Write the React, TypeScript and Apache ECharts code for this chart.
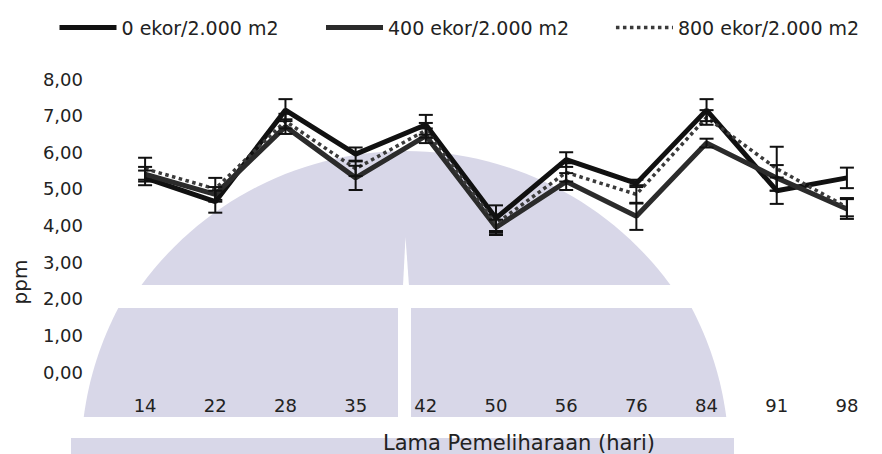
import React, { useEffect, useRef } from "react";
import * as echarts from "echarts";

// Sampling days (hari)
const categories = ["14", "22", "28", "35", "42", "50", "56", "76", "84", "91", "98"];

// Mean concentration (ppm) per stocking density
const ekor0 = [5.3, 4.65, 7.15, 5.95, 6.75, 4.2, 5.8, 5.15, 7.15, 4.95, 5.3];
const ekor400 = [5.4, 4.85, 6.7, 5.3, 6.45, 3.95, 5.2, 4.25, 6.25, 5.3, 4.45];
const ekor800 = [5.55, 5.0, 6.85, 5.55, 6.6, 4.05, 5.45, 4.85, 6.95, 5.55, 4.5];

// Standard deviation per point
const err0 = [0.2, 0.3, 0.3, 0.18, 0.27, 0.35, 0.2, 0.1, 0.3, 0.36, 0.28];
const err400 = [0.2, 0.2, 0.2, 0.33, 0.2, 0.21, 0.23, 0.37, 0.12, 0.35, 0.27];
const err800 = [0.3, 0.3, 0.2, 0.2, 0.2, 0.25, 0.25, 0.25, 0.2, 0.6, 0.25];

const seriesNames = ["0 ekor/2.000 m2", "400 ekor/2.000 m2", "800 ekor/2.000 m2"];

const FONT = "DejaVu Sans";
const TEXT = "#222222";
const MARK = "#d8d7e8";

// Dome-shaped background emblem: polygons sampled from circular arcs
function upperDome(cx: number, cy: number, r: number, yCut: number) {
  const t0 = Math.asin((cy - yCut) / r);
  const pts: number[][] = [];
  const n = 60;
  for (let i = 0; i <= n; i++) {
    const t = Math.PI - t0 - ((Math.PI - 2 * t0) * i) / n;
    pts.push([cx + r * Math.cos(t), cy - r * Math.sin(t)]);
  }
  return pts;
}

function domeBand(cx: number, cy: number, r: number, yTop: number, yBot: number) {
  const t1 = Math.asin((cy - yTop) / r);
  const t2 = Math.asin((cy - yBot) / r);
  const pts: number[][] = [];
  const n = 20;
  for (let i = 0; i <= n; i++) {
    const t = Math.PI - t2 - ((t1 - t2) * i) / n;
    pts.push([cx + r * Math.cos(t), cy - r * Math.sin(t)]);
  }
  for (let i = 0; i <= n; i++) {
    const t = t1 - ((t1 - t2) * i) / n;
    pts.push([cx + r * Math.cos(t), cy - r * Math.sin(t)]);
  }
  return pts;
}

function errorData(vals: number[], errs: number[]) {
  return vals.map((v, i) => [i, v - errs[i], v + errs[i]]);
}

function errorSeries(name: string, vals: number[], errs: number[]) {
  return {
    name,
    type: "custom",
    z: 4,
    silent: true,
    data: errorData(vals, errs),
    renderItem: (_params: any, api: any) => {
      const i = api.value(0);
      const lo = api.coord([i, api.value(1)]);
      const hi = api.coord([i, api.value(2)]);
      const w = 7;
      const style = { stroke: "#111111", lineWidth: 2 };
      return {
        type: "group",
        children: [
          { type: "line", shape: { x1: hi[0], y1: hi[1], x2: lo[0], y2: lo[1] }, style },
          { type: "line", shape: { x1: hi[0] - w, y1: hi[1], x2: hi[0] + w, y2: hi[1] }, style },
          { type: "line", shape: { x1: lo[0] - w, y1: lo[1], x2: lo[0] + w, y2: lo[1] }, style },
        ],
      };
    },
  };
}

export default function App() {
  const ref = useRef<HTMLDivElement>(null);

  useEffect(() => {
    if (!ref.current) return;
    const chart = echarts.init(ref.current, undefined, { renderer: "svg" });

    const lineStyles = [
      { color: "#111111", width: 5, type: "solid" },
      { color: "#2b2b2b", width: 5, type: "solid" },
      { color: "#3a3a3a", width: 3.5, type: "dotted" },
    ];

    const option: any = {
      animation: false,
      backgroundColor: "#ffffff",
      textStyle: { fontFamily: FONT },
      legend: {
        left: 57,
        top: 18,
        padding: 0,
        itemWidth: 57,
        itemHeight: 8,
        itemGap: 45,
        textStyle: { fontFamily: FONT, fontSize: 19, color: TEXT },
        data: seriesNames.map((n, k) => ({
          name: n,
          lineStyle: lineStyles[k],
          itemStyle: { opacity: 0 },
        })),
      },
      grid: { left: 110, right: -20, top: 79, bottom: 82 },
      xAxis: {
        type: "category",
        data: categories,
        boundaryGap: true,
        axisLine: { show: false },
        axisTick: { show: false },
        splitLine: { show: false },
        axisLabel: { margin: 24, fontFamily: FONT, fontSize: 18, color: TEXT },
      },
      yAxis: {
        type: "value",
        min: 0,
        max: 8,
        interval: 1,
        axisLine: { show: false },
        axisTick: { show: false },
        splitLine: { show: false },
        axisLabel: {
          margin: 27,
          fontFamily: FONT,
          fontSize: 18,
          color: TEXT,
          formatter: (v: number) => v.toFixed(2).replace(".", ","),
        },
      },
      graphic: [
        { type: "polygon", z: -10, silent: true, shape: { points: upperDome(406, 479, 328, 285) }, style: { fill: MARK } },
        { type: "polygon", z: -10, silent: true, shape: { points: domeBand(405, 459, 324, 308, 417) }, style: { fill: MARK } },
        { type: "rect", z: -10, silent: true, shape: { x: 71, y: 438, width: 663, height: 20 }, style: { fill: MARK } },
        { type: "polygon", z: -9, silent: true, shape: { points: [[405.5, 237], [403, 286], [409, 286]] }, style: { fill: "#ffffff" } },
        { type: "rect", z: -9, silent: true, shape: { x: 398, y: 306, width: 13, height: 113 }, style: { fill: "#ffffff" } },
        {
          type: "text",
          z: 10,
          x: 519,
          y: 443,
          style: { text: "Lama Pemeliharaan (hari)", fill: TEXT, font: `21px "${FONT}"`, align: "center", verticalAlign: "middle" },
        },
        {
          type: "text",
          z: 10,
          x: 20,
          y: 282,
          rotation: Math.PI / 2,
          style: { text: "ppm", fill: TEXT, font: `20px "${FONT}"`, align: "center", verticalAlign: "middle" },
        },
      ],
      series: [
        { name: seriesNames[0], type: "line", data: ekor0, symbol: "none", z: 3, lineStyle: lineStyles[0], itemStyle: { color: lineStyles[0].color } },
        { name: seriesNames[1], type: "line", data: ekor400, symbol: "none", z: 3, lineStyle: lineStyles[1], itemStyle: { color: lineStyles[1].color } },
        { name: seriesNames[2], type: "line", data: ekor800, symbol: "none", z: 3, lineStyle: lineStyles[2], itemStyle: { color: lineStyles[2].color } },
        errorSeries(seriesNames[0], ekor0, err0),
        errorSeries(seriesNames[1], ekor400, err400),
        errorSeries(seriesNames[2], ekor800, err800),
      ],
    };

    chart.setOption(option);
    return () => chart.dispose();
  }, []);

  return (
    <div
      ref={ref}
      style={{ position: "fixed", left: 0, top: 0, width: 882, height: 454, background: "#ffffff" }}
    />
  );
}
